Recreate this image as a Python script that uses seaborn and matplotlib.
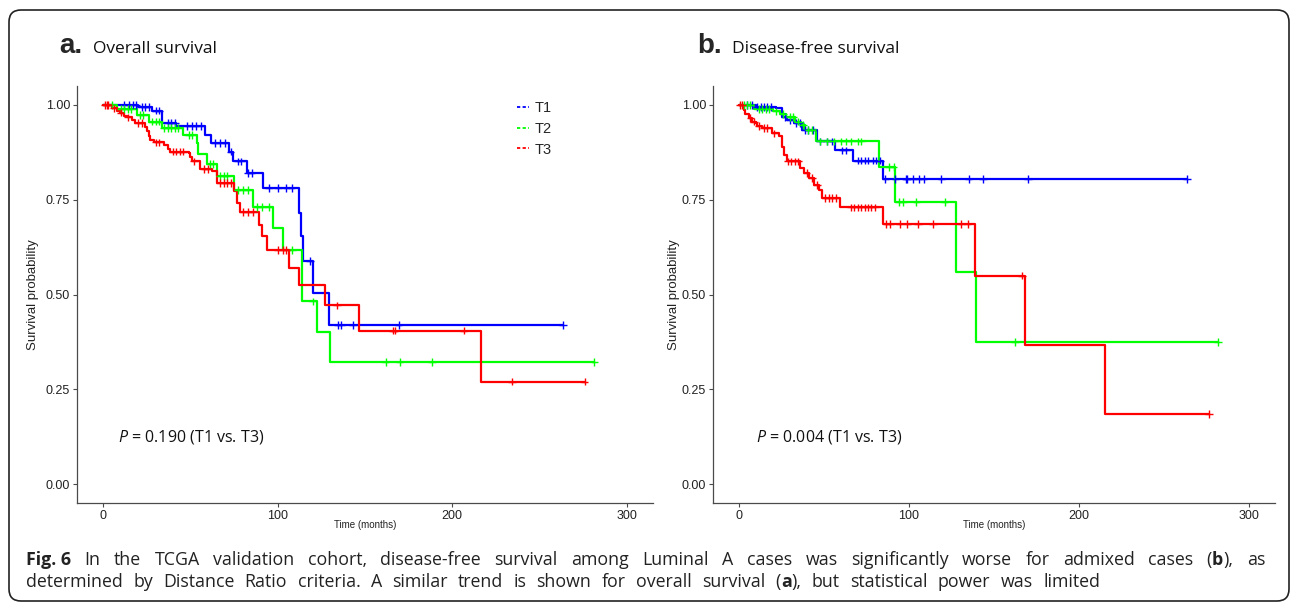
import numpy as np
import pandas as pd
import matplotlib
matplotlib.use("Agg")
import matplotlib.pyplot as plt
import seaborn as sns
from matplotlib.lines import Line2D
from matplotlib.patches import FancyBboxPatch
from matplotlib.transforms import IdentityTransform

# ---------------- data ----------------
groups = ["T1", "T2", "T3"]
group_colors = {"T1": "#0000FF", "T2": "#00FF00", "T3": "#FF0000"}

# Panel a: overall survival
os_t1_event_t = [20, 28, 33.5, 42, 58.5, 62, 72, 74.6, 82.3, 91.5, 112.3, 113.5, 114.6, 120.3, 129.1]
os_t1_event_s = [0.995, 0.985, 0.952, 0.945, 0.921, 0.899, 0.877, 0.851, 0.820, 0.781, 0.715, 0.653, 0.588, 0.504, 0.419]
os_t1_cens = [12, 15, 17, 19, 22, 24, 26, 30, 32, 37, 39, 41, 48, 51, 53, 56, 64, 67, 70, 73, 77, 79, 83, 85,
              95, 100, 105, 108, 118.6, 134.3, 136.4, 143.1, 169.2, 263.4]

os_t2_event_t = [8, 19.3, 26, 33.6, 46, 53.7, 54.6, 59.4, 65.2, 74.7, 86.1, 97.2, 102.9, 113.8, 122.4, 129.7]
os_t2_event_s = [0.99, 0.974, 0.956, 0.939, 0.921, 0.899, 0.870, 0.845, 0.813, 0.776, 0.731, 0.675, 0.618, 0.482, 0.402, 0.322]
os_t2_cens = [5, 10, 12, 14, 16, 21, 23, 28, 30, 32, 35, 37, 39, 41, 43, 49, 51, 61, 63, 67, 69, 71, 77, 80, 83,
              88, 91, 95, 108.1, 120, 161.8, 169.8, 188.5, 281.4]

os_t3_event_t = [5, 8.2, 9.7, 11.7, 13.5, 16.4, 18.3, 24.1, 25, 26, 27, 29.3, 34.6, 36.9, 38, 48.9, 49.8, 50.8,
                 55.6, 62.3, 65.1, 74.7, 76.6, 78.1, 89, 90.9, 93.8, 106.6, 112, 127.2, 146.3, 216.6]
os_t3_event_s = [0.991, 0.985, 0.980, 0.971, 0.967, 0.961, 0.952, 0.943, 0.930, 0.917, 0.908, 0.901, 0.895, 0.883,
                 0.877, 0.873, 0.864, 0.851, 0.831, 0.825, 0.794, 0.772, 0.741, 0.717, 0.684, 0.653, 0.618, 0.570,
                 0.524, 0.471, 0.405, 0.270]
os_t3_cens = [1, 2, 3, 6, 10, 14, 20, 22, 30, 32, 40, 42, 44, 46, 52, 58, 60, 67, 69, 71, 73, 80, 83, 86,
              100, 103, 105, 133.9, 166, 167, 206.5, 234.2, 275.8]

# Panel b: disease-free survival
dfs_t1_event_t = [10, 21.7, 25.6, 28.5, 32.4, 37.4, 46.2, 56.9, 67.3, 84.8]
dfs_t1_event_s = [0.995, 0.991, 0.969, 0.961, 0.952, 0.934, 0.904, 0.880, 0.853, 0.804]
dfs_t1_cens = [5, 8, 11, 13, 15, 17, 19, 27, 30, 34, 36, 39, 41, 44, 48, 52, 55, 61, 63, 70, 72, 74, 76, 79, 81,
               83, 86.2, 92.1, 98.5, 98.9, 102.5, 105.7, 108.7, 119.1, 135.1, 143.5, 169.9, 263.5]

dfs_t2_event_t = [9, 20, 24.6, 27.6, 33.4, 36.4, 39.3, 45.2, 82.3, 92.1, 127.7, 139.6]
dfs_t2_event_s = [0.99, 0.983, 0.976, 0.969, 0.956, 0.947, 0.934, 0.904, 0.837, 0.744, 0.559, 0.374]
dfs_t2_cens = [3, 5, 7, 12, 14, 16, 18, 22, 26, 30, 32, 35, 38, 41, 43, 48, 52, 56, 60, 63, 66, 70, 72,
               88.2, 91.1, 94, 96.6, 104.4, 121, 162.5, 281.7]

dfs_t3_event_t = [3.1, 4, 6, 8, 10, 11, 13.9, 19.7, 23.6, 25.6, 26.6, 28.5, 36, 38.3, 41.3, 44.2, 47.1, 49.1,
                  59.8, 84.7, 138.6, 168.3, 215.2]
dfs_t3_event_s = [0.987, 0.976, 0.965, 0.956, 0.952, 0.945, 0.939, 0.925, 0.917, 0.890, 0.868, 0.851, 0.833,
                  0.820, 0.807, 0.789, 0.776, 0.754, 0.730, 0.686, 0.550, 0.368, 0.184]
dfs_t3_cens = [1, 2, 7, 9, 12, 15, 17, 21, 29, 31, 33, 35, 40, 43, 46, 51, 53, 55, 57, 66, 68, 70, 72, 74, 76,
               78, 80, 86.8, 89.1, 94.6, 98.9, 105.2, 114.2, 130.6, 134.5, 166.4, 276.4]

x_ticks = [0, 100, 200, 300]
y_ticks = [0.00, 0.25, 0.50, 0.75, 1.00]
y_ticklabels = ["0.00", "0.25", "0.50", "0.75", "1.00"]

panel_letters = ["a.", "b."]
panel_titles = ["Overall survival", "Disease-free survival"]
p_texts = [r"$P$ = 0.190 (T1 vs. T3)", r"$P$ = 0.004 (T1 vs. T3)"]
x_label = "Time (months)"
y_label = "Survival probability"

caption_line1 = [[("Fig. 6", True)], [("In", False)], [("the", False)], [("TCGA", False)],
                 [("validation", False)], [("cohort,", False)], [("disease-free", False)], [("survival", False)],
                 [("among", False)], [("Luminal", False)], [("A", False)], [("cases", False)], [("was", False)],
                 [("significantly", False)], [("worse", False)], [("for", False)], [("admixed", False)],
                 [("cases", False)], [("(", False), ("b", True), ("),", False)], [("as", False)]]
caption_line2 = [[("determined", False)], [("by", False)], [("Distance", False)], [("Ratio", False)],
                 [("criteria.", False)], [("A", False)], [("similar", False)], [("trend", False)], [("is", False)],
                 [("shown", False)], [("for", False)], [("overall", False)], [("survival", False)],
                 [("(", False), ("a", True), ("),", False)], [("but", False)], [("statistical", False)],
                 [("power", False)], [("was", False)], [("limited", False)]]


def build_curves(event_ts, event_ss, cens_list):
    line_rows, cens_rows = [], []
    for g, et, es, cs in zip(groups, event_ts, event_ss, cens_list):
        times = [0.0] + list(et) + [max(cs)]
        survs = [1.0] + list(es) + [es[-1]]
        for t, s in zip(times, survs):
            line_rows.append({"time": t, "surv": s, "group": g})
        ta = np.array(times[:-1])
        sa = np.array(survs[:-1])
        for c in cs:
            idx = np.searchsorted(ta, c, side="right") - 1
            cens_rows.append({"time": c, "surv": sa[idx], "group": g})
    return pd.DataFrame(line_rows), pd.DataFrame(cens_rows)


panels = [
    build_curves([os_t1_event_t, os_t2_event_t, os_t3_event_t],
                 [os_t1_event_s, os_t2_event_s, os_t3_event_s],
                 [os_t1_cens, os_t2_cens, os_t3_cens]),
    build_curves([dfs_t1_event_t, dfs_t2_event_t, dfs_t3_event_t],
                 [dfs_t1_event_s, dfs_t2_event_s, dfs_t3_event_s],
                 [dfs_t1_cens, dfs_t2_cens, dfs_t3_cens]),
]

# ---------------- style ----------------
sns.set_style("white")
plt.rcParams["font.family"] = ["Liberation Sans", "DejaVu Sans"]
plt.rcParams["mathtext.fontset"] = "custom"
plt.rcParams["mathtext.it"] = "Open Sans:italic"
plt.rcParams["mathtext.rm"] = "Open Sans"

W, H = 1290, 603
fig = plt.figure(figsize=(W / 100, H / 100), dpi=100)
fig.patch.set_facecolor("white")


def px(x, y):
    return x / W, 1 - y / H


axes_px = [(77, 653), (713, 1275)]
ax_top, ax_bot = 86, 503
axis_col = "#4a4a4a"

for i, ((left, right), (line_df, cens_df)) in enumerate(zip(axes_px, panels)):
    ax = fig.add_axes([left / W, 1 - ax_bot / H, (right - left) / W, (ax_bot - ax_top) / H])
    sns.lineplot(data=line_df, x="time", y="surv", hue="group", palette=group_colors,
                 estimator=None, sort=False, drawstyle="steps-post", linewidth=1.6,
                 legend=False, ax=ax)
    sns.scatterplot(data=cens_df, x="time", y="surv", hue="group", palette=group_colors,
                    marker="+", s=30, linewidth=1.0, legend=False, ax=ax, zorder=3)
    ax.set_xlim(-15, 315)
    ax.set_ylim(-0.05, 1.05)
    ax.set_xticks(x_ticks)
    ax.set_yticks(y_ticks)
    ax.set_yticklabels(y_ticklabels)
    for s in ["top", "right"]:
        ax.spines[s].set_visible(False)
    for s in ["left", "bottom"]:
        ax.spines[s].set_color(axis_col)
        ax.spines[s].set_linewidth(0.9)
    ax.tick_params(axis="both", length=3, width=0.8, color=axis_col, labelsize=9,
                   labelcolor="#222222", pad=2, left=True, bottom=True)
    ax.set_xlabel(x_label, fontsize=7, color="#222222")
    ax.set_ylabel(y_label, fontsize=9.5, color="#222222")
    ax.xaxis.set_label_coords(0.5, -0.041)
    ax.yaxis.set_label_coords(-0.066 if i == 0 else -0.059, 0.5)
    ax.grid(False)
    ax.text(8.5 if i == 0 else 10, 0.124, p_texts[i], fontsize=11.5, family="Open Sans",
            va="center", ha="left", color="#111111")
    if i == 0:
        handles = [Line2D([0], [0], color=group_colors[g], lw=1.3, ls=(0, (1.8, 1.3))) for g in groups]
        ax.legend(handles, groups, loc="upper left", bbox_to_anchor=(0.764, 0.963), frameon=False,
                  handlelength=0.8, handletextpad=0.4, labelspacing=0.45, borderpad=0, borderaxespad=0,
                  prop={"family": "Liberation Sans", "size": 10.5})

# panel titles
title_pos = [(59, 93), (697, 732)]
for (lx, tx), letter, title in zip(title_pos, panel_letters, panel_titles):
    fig.text(*px(lx, 53), letter, fontsize=20, fontweight="bold", family="Liberation Sans", va="baseline")
    fig.text(*px(tx, 53), title, fontsize=12.5, family="Open Sans", va="baseline", color="#111111")

# caption
renderer = fig.canvas.get_renderer()
cap_font = "Open Sans"
cap_size = 12.8


def measure(txt, bold=False):
    t = fig.text(0, 0, txt, fontsize=cap_size, family=cap_font, fontweight="bold" if bold else "normal")
    w = t.get_window_extent(renderer).width
    t.remove()
    return w


def place_line(words, x0, y, width):
    word_w = [sum(measure(s, b) for s, b in wd) for wd in words]
    gap = (width - sum(word_w)) / (len(words) - 1)
    x = x0
    for wd, ww in zip(words, word_w):
        xx = x
        for s, b in wd:
            fig.text(*px(xx, y), s, fontsize=cap_size, family=cap_font,
                     fontweight="bold" if b else "normal", va="baseline", color="#222222")
            xx += measure(s, b)
        x += ww + gap


place_line(caption_line1, 26, 565, 1239)
place_line(caption_line2, 26, 587, 1074)

# rounded border
border = FancyBboxPatch((9, 2), 1280, 591, boxstyle="round,pad=0,rounding_size=12",
                        transform=IdentityTransform(), fill=False, edgecolor="#222222",
                        linewidth=1.2, figure=fig)
fig.patches.append(border)

fig.savefig("out.png", dpi=100)
